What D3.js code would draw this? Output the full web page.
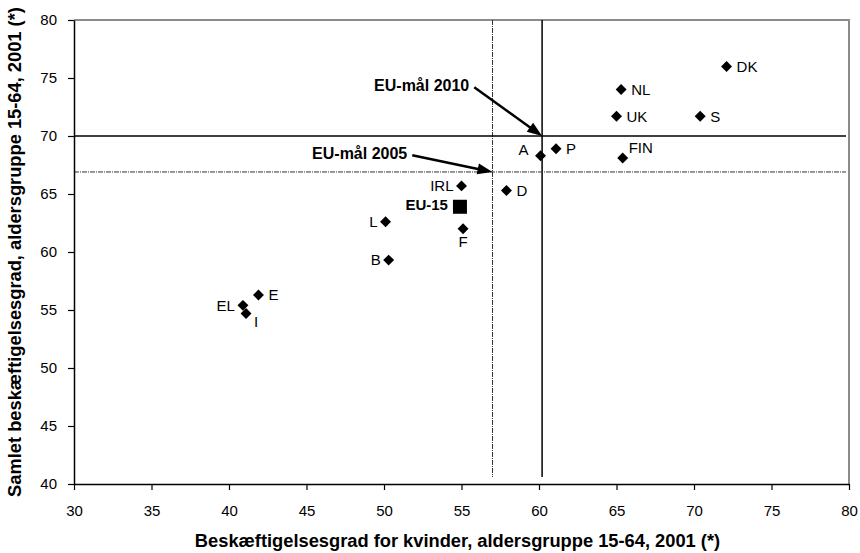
<!DOCTYPE html>
<html>
<head>
<meta charset="utf-8">
<script src="https://cdn.jsdelivr.net/npm/d3@7"></script>
<style>
  body { margin: 0; background: #fff; }
  svg text { font-family: "Liberation Sans", Arial, sans-serif; fill: #000; }
</style>
</head>
<body>
<div id="chart"></div>
<script>
// Beskæftigelsesgrad, kvinder (x) mod samlet (y), 2001
const countries = ["DK", "NL", "UK", "S", "FIN", "P", "A", "IRL", "D", "EU-15", "F", "L", "B", "E", "EL", "I"];
const womenRate = [72.1, 65.3, 65.0, 70.4, 65.4, 61.1, 60.1, 55.0, 57.9, 54.9, 55.1, 50.1, 50.3, 41.9, 40.9, 41.1];
const totalRate = [76.0, 74.0, 71.7, 71.7, 68.1, 68.9, 68.3, 65.7, 65.3, 63.9, 62.0, 62.6, 59.3, 56.3, 55.4, 54.7];
const labelSide = ["r", "r", "r", "r", "ur", "r", "ul", "l", "r", "l", "b", "l", "l", "r", "l", "br"];

// EU-mål
const targetNames = ["EU-mål 2005", "EU-mål 2010"];
const targetWomen = [57, 60.2];
const targetTotal = [66.9, 70];
const targetTextX = [51.5, 55.5];
const targetTextY = [68.0, 73.85];

const xTicks = [30, 35, 40, 45, 50, 55, 60, 65, 70, 75, 80];
const yTicks = [40, 45, 50, 55, 60, 65, 70, 75, 80];
const xTitle = "Beskæftigelsesgrad for kvinder, aldersgruppe 15-64, 2001 (*)";
const yTitle = "Samlet beskæftigelsesgrad, aldersgruppe 15-64, 2001 (*)";

const width = 860, height = 553;
const plot = { left: 74, right: 849, top: 20, bottom: 484 };

const svg = d3.select("#chart").append("svg")
    .attr("width", width)
    .attr("height", height);

const x = d3.scaleLinear().domain([30, 80]).range([plot.left, plot.right]);
const y = d3.scaleLinear().domain([40, 80]).range([plot.bottom, plot.top]);

// ramme (grå top og højre side)
svg.append("path")
    .attr("d", `M${plot.left},${plot.top}H${plot.right}V${plot.bottom}`)
    .attr("fill", "none")
    .attr("stroke", "#8c8c8c")
    .attr("stroke-width", 2);

// mål-linjer
const dashed = "5,1,1,1";
targetWomen.forEach((v, i) => {
    svg.append("line")
        .attr("x1", x(v)).attr("x2", x(v))
        .attr("y1", plot.top).attr("y2", plot.bottom - 7)
        .attr("stroke", i === 0 ? "#333" : "#000")
        .attr("stroke-width", i === 0 ? 1 : 1.5)
        .attr("stroke-dasharray", i === 0 ? dashed : null);
});
targetTotal.forEach((v, i) => {
    svg.append("line")
        .attr("x1", plot.left).attr("x2", plot.right - 3)
        .attr("y1", y(v)).attr("y2", y(v))
        .attr("stroke", i === 0 ? "#333" : "#000")
        .attr("stroke-width", i === 0 ? 1 : 1.5)
        .attr("stroke-dasharray", i === 0 ? dashed : null);
});

// akser
const xAxis = svg.append("g")
    .attr("transform", `translate(0,${plot.bottom})`)
    .call(d3.axisBottom(x).tickValues(xTicks).tickSize(6).tickSizeOuter(0).tickPadding(15));
const yAxis = svg.append("g")
    .attr("transform", `translate(${plot.left},0)`)
    .call(d3.axisLeft(y).tickValues(yTicks).tickSize(6).tickSizeOuter(0).tickPadding(11));

[xAxis, yAxis].forEach(g => {
    g.select(".domain").attr("stroke", "#000").attr("stroke-width", 1.5);
    g.selectAll(".tick line").attr("stroke", "#000").attr("stroke-width", 1.2);
    g.selectAll(".tick text")
        .style("font-family", "'Liberation Sans', Arial, sans-serif")
        .style("font-size", "15px")
        .attr("fill", "#000");
});

// aksetitler
svg.append("text")
    .attr("x", (plot.left + plot.right) / 2 - 4)
    .attr("y", 547)
    .attr("text-anchor", "middle")
    .style("font-size", "18.3px")
    .style("font-weight", "bold")
    .text(xTitle);

svg.append("text")
    .attr("transform", `translate(15,${(plot.top + plot.bottom) / 2}) rotate(-90)`)
    .attr("text-anchor", "middle")
    .attr("dy", "0.35em")
    .style("font-size", "18.3px")
    .style("font-weight", "bold")
    .text(yTitle);

// pile med tekst
targetNames.forEach((name, i) => {
    svg.append("text")
        .attr("x", x(targetTextX[i]))
        .attr("y", y(targetTextY[i]))
        .attr("text-anchor", "end")
        .style("font-size", "16px")
        .style("font-weight", "bold")
        .text(name);

    const x0 = x(targetTextX[i]) + 5, y0 = y(targetTextY[i]) - 4;
    const x1 = x(targetWomen[i]), y1 = y(targetTotal[i]);
    const a = Math.atan2(y1 - y0, x1 - x0);
    svg.append("line")
        .attr("x1", x0).attr("y1", y0)
        .attr("x2", x1 - 10 * Math.cos(a)).attr("y2", y1 - 10 * Math.sin(a))
        .attr("stroke", "#000")
        .attr("stroke-width", 2.5);
    svg.append("path")
        .attr("d", "M0,0L-15,-5.5L-15,5.5Z")
        .attr("transform", `translate(${x1},${y1}) rotate(${a * 180 / Math.PI})`)
        .attr("fill", "#000");
});

// punkter
const points = countries.map((c, i) => ({ name: c, wx: womenRate[i], ty: totalRate[i], side: labelSide[i] }));

svg.append("g").selectAll("path")
    .data(points)
    .join("path")
    .attr("d", d => d.name === "EU-15"
        ? d3.symbol().type(d3.symbolSquare).size(196)()
        : d3.symbol().type(d3.symbolSquare).size(60)())
    .attr("transform", d => `translate(${x(d.wx)},${y(d.ty)})` + (d.name === "EU-15" ? "" : " rotate(45)"))
    .attr("fill", "#000");

const offsets = {
    r:  { dx: 10, dy: 0, anchor: "start" },
    l:  { dx: -8, dy: 0, anchor: "end" },
    ur: { dx: 6, dy: -10, anchor: "start" },
    ul: { dx: -12, dy: -6, anchor: "end" },
    b:  { dx: 0, dy: 13, anchor: "middle" },
    br: { dx: 8, dy: 8, anchor: "start" }
};

svg.append("g").selectAll("text")
    .data(points)
    .join("text")
    .attr("x", d => x(d.wx) + offsets[d.side].dx - (d.name === "EU-15" ? 4 : 0))
    .attr("y", d => y(d.ty) + offsets[d.side].dy - (d.name === "EU-15" ? 2 : 0))
    .attr("dy", "0.35em")
    .attr("text-anchor", d => offsets[d.side].anchor)
    .style("font-size", "15px")
    .style("font-weight", d => d.name === "EU-15" ? "bold" : "normal")
    .text(d => d.name);
</script>
</body>
</html>
